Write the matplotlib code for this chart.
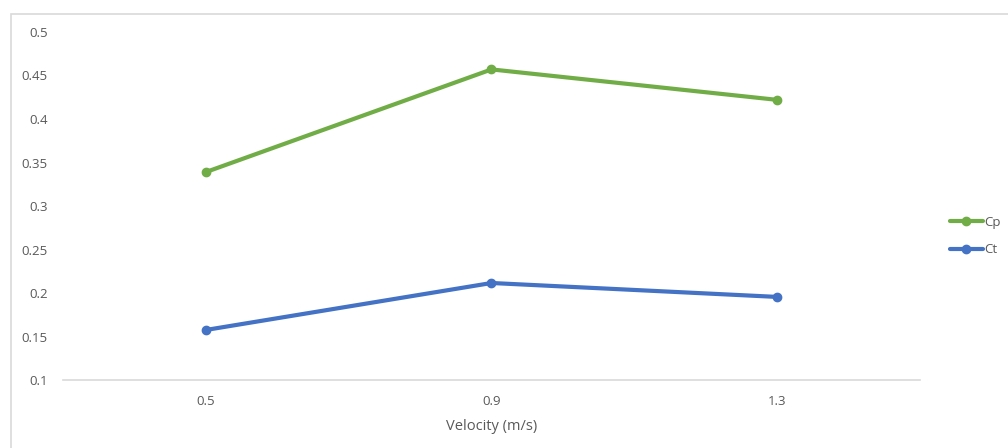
import matplotlib.pyplot as plt
from matplotlib.patches import Rectangle

velocidades = ["0.5", "0.9", "1.3"]
cp = [0.339, 0.457, 0.422]
ct = [0.1575, 0.2115, 0.1955]

VERDE = "#70AD47"
AZUL = "#4472C4"
GRIS = "#595959"

plt.rcParams['font.family'] = ['Open Sans', 'DejaVu Sans']

fig = plt.figure(figsize=(10.08, 4.48), dpi=100)
ax = fig.add_axes([63/1008, 1 - 380/448, 857/1008, 348/448])

# borde del area del grafico
fig.patches.append(Rectangle((11/1008, -0.05), 1.1, 1 - 14/448 + 0.05,
                             transform=fig.transFigure, fill=False,
                             edgecolor="#D9D9D9", lw=1.2))

x = range(len(velocidades))
ax.plot(x, cp, color=VERDE, lw=3, marker="o", ms=6, label="Cp",
        solid_capstyle="round")
ax.plot(x, ct, color=AZUL, lw=3, marker="o", ms=6, label="Ct",
        solid_capstyle="round")

ax.set_xlim(-0.5, 2.5)
ax.set_ylim(0.1, 0.5)
ax.set_xticks(list(x))
ax.set_xticklabels(velocidades)
ax.set_yticks([0.1, 0.15, 0.2, 0.25, 0.3, 0.35, 0.4, 0.45, 0.5])
ax.set_yticklabels(["0.1", "0.15", "0.2", "0.25", "0.3", "0.35", "0.4", "0.45", "0.5"])

for lado in ["top", "right", "left"]:
    ax.spines[lado].set_visible(False)
ax.spines["bottom"].set_color("#D9D9D9")
ax.spines["bottom"].set_linewidth(1.2)
ax.tick_params(axis="both", length=0, labelsize=9.5, colors=GRIS)
ax.tick_params(axis="y", pad=11)
ax.tick_params(axis="x", pad=11)
ax.set_xlabel("Velocity (m/s)", fontsize=10.5, color=GRIS, labelpad=8)

fig.legend(loc="center left", bbox_to_anchor=(938/1008, 1 - 236/448),
           frameon=False, fontsize=9.5, labelcolor=GRIS, handlelength=2.5,
           handletextpad=0.1, labelspacing=1.1)

fig.savefig("out.png", dpi=100)
